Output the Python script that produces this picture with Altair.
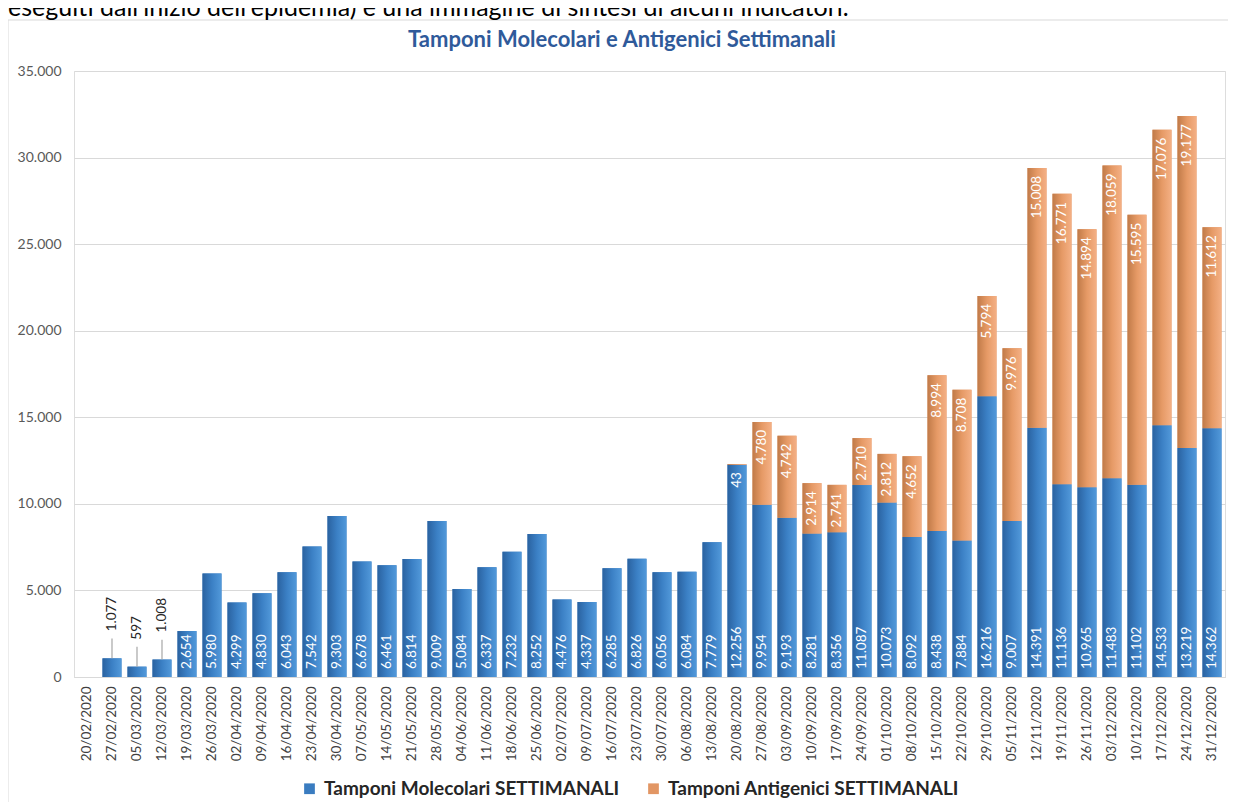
import altair as alt
import pandas as pd

dates = [
    "20/02/2020", "27/02/2020", "05/03/2020", "12/03/2020", "19/03/2020", "26/03/2020",
    "02/04/2020", "09/04/2020", "16/04/2020", "23/04/2020", "30/04/2020", "07/05/2020",
    "14/05/2020", "21/05/2020", "28/05/2020", "04/06/2020", "11/06/2020", "18/06/2020",
    "25/06/2020", "02/07/2020", "09/07/2020", "16/07/2020", "23/07/2020", "30/07/2020",
    "06/08/2020", "13/08/2020", "20/08/2020", "27/08/2020", "03/09/2020", "10/09/2020",
    "17/09/2020", "24/09/2020", "01/10/2020", "08/10/2020", "15/10/2020", "22/10/2020",
    "29/10/2020", "05/11/2020", "12/11/2020", "19/11/2020", "26/11/2020", "03/12/2020",
    "10/12/2020", "17/12/2020", "24/12/2020", "31/12/2020",
]
molecolari = [
    None, 1077, 597, 1008, 2654, 5980, 4299, 4830, 6043, 7542, 9303, 6678,
    6461, 6814, 9009, 5084, 6337, 7232, 8252, 4476, 4337, 6285, 6826, 6056,
    6084, 7779, 12256, 9954, 9193, 8281, 8356, 11087, 10073, 8092, 8438, 7884,
    16216, 9007, 14391, 11136, 10965, 11483, 11102, 14533, 13219, 14362,
]
antigenici = [None] * 26 + [
    43, 4780, 4742, 2914, 2741, 2710, 2812, 4652, 8994, 8708,
    5794, 9976, 15008, 16771, 14894, 18059, 15595, 17076, 19177, 11612,
]
series_names = ["Tamponi Molecolari SETTIMANALI", "Tamponi Antigenici SETTIMANALI"]
chart_title = "Tamponi Molecolari e Antigenici Settimanali"
page_text = "eseguiti dall'inizio dell'epidemia) è una immagine di sintesi di alcuni indicatori."
y_ticks = [0, 5000, 10000, 15000, 20000, 25000, 30000, 35000]


def it_fmt(v):
    return f"{int(v):,}".replace(",", ".")


df = pd.DataFrame({"data": dates, "mol": molecolari, "ant": antigenici})
df["mol0"] = df["mol"].fillna(0)
df["top"] = df["mol0"] + df["ant"].fillna(0)
df["zero"] = 0
df["mol_lbl"] = df["mol"].apply(lambda v: it_fmt(v) if pd.notna(v) else "")
df["ant_lbl"] = df["ant"].apply(lambda v: it_fmt(v) if pd.notna(v) else "")
df["lead"] = df["mol0"] + 1150

rows = []
for _, r in df.iterrows():
    if pd.notna(r["mol"]):
        rows.append({"data": r["data"], "serie": series_names[0], "y0": 0, "y1": r["mol"]})
    if pd.notna(r["ant"]):
        rows.append({"data": r["data"], "serie": series_names[1], "y0": r["mol0"], "y1": r["top"]})
long_df = pd.DataFrame(rows)

FONT = "Lato"
blue_grad = alt.Gradient(
    gradient="linear", x1=0, x2=1, y1=0, y2=0,
    stops=[alt.GradientStop(offset=0, color="#2a62a0"),
           alt.GradientStop(offset=0.5, color="#3b80c5"),
           alt.GradientStop(offset=1, color="#5299da")],
)
orange_grad = alt.Gradient(
    gradient="linear", x1=0, x2=1, y1=0, y2=0,
    stops=[alt.GradientStop(offset=0, color="#c07a48"),
           alt.GradientStop(offset=0.5, color="#e69a66"),
           alt.GradientStop(offset=1, color="#f4b085")],
)

x_enc = alt.X(
    "data:N", sort=dates, title=None,
    scale=alt.Scale(domain=dates, paddingInner=0.24, paddingOuter=0.14),
    axis=alt.Axis(labelAngle=270, labelFont=FONT, labelFontSize=13.5, labelColor="#404040",
                  labelPadding=9, ticks=False, domainColor="#d9d9d9", grid=False),
)
y_scale = alt.Scale(domain=[0, 35000], nice=False)
y_axis = alt.Axis(values=y_ticks, labelExpr="replace(format(datum.value, ',d'), regexp(',', 'g'), '.')",
                  labelFont=FONT, labelFontSize=14, labelColor="#595959", labelPadding=13,
                  domain=False, ticks=False, gridColor="#d9d9d9", gridWidth=1.2)

legend_layer = alt.Chart(long_df).mark_bar().encode(
    x=x_enc,
    y=alt.Y("y0:Q", scale=y_scale, axis=y_axis, title=None),
    y2="y1:Q",
    color=alt.Color(
        "serie:N",
        scale=alt.Scale(domain=series_names, range=["#3a7cc0", "#e29664"]),
        legend=alt.Legend(orient="none", legendX=226, legendY=708, direction="horizontal",
                          title=None, symbolType="square", symbolSize=115, symbolStrokeWidth=0,
                          labelFont=FONT, labelFontSize=19, labelFontWeight="bold",
                          labelColor="#262626", columnPadding=24, labelOffset=5, labelLimit=0),
    ),
)

base = alt.Chart(df)
mol_bars = base.transform_filter("isValid(datum.mol)").mark_bar(color=blue_grad).encode(
    x=x_enc, y=alt.Y("zero:Q", scale=y_scale), y2="mol:Q"
)
ant_bars = base.transform_filter("isValid(datum.ant)").mark_bar(color=orange_grad).encode(
    x=x_enc, y=alt.Y("mol0:Q", scale=y_scale), y2="top:Q"
)
mol_in = base.transform_filter("isValid(datum.mol) && datum.mol >= 1500").mark_text(
    angle=270, align="left", baseline="middle", dx=8, color="white", font=FONT, fontSize=13.5
).encode(x=x_enc, y=alt.Y("zero:Q", scale=y_scale), text="mol_lbl:N")
mol_out = base.transform_filter("isValid(datum.mol) && datum.mol < 1500").mark_text(
    angle=270, align="left", baseline="middle", dx=27, color="#262626", font=FONT, fontSize=13.5
).encode(x=x_enc, y=alt.Y("mol:Q", scale=y_scale), text="mol_lbl:N")
leaders = base.transform_filter("isValid(datum.mol) && datum.mol < 1500").mark_rule(
    color="#a6a6a6", strokeWidth=1.2
).encode(x=x_enc, y=alt.Y("mol:Q", scale=y_scale), y2="lead:Q")
ant_lbl = base.transform_filter("isValid(datum.ant)").mark_text(
    angle=270, align="right", baseline="middle", dx=-8, color="white", font=FONT, fontSize=13.5
).encode(x=x_enc, y=alt.Y("top:Q", scale=y_scale), text="ant_lbl:N")

frame_df = pd.DataFrame({"t": [chart_title], "p": [page_text]})
border_v = alt.Chart(frame_df).mark_rule(color="#d9d9d9").encode(
    x=alt.value(-66), y=alt.value(-51), y2=alt.value(760)
)
border_h = alt.Chart(frame_df).mark_rule(color="#d9d9d9").encode(
    x=alt.value(-66), x2=alt.value(1160), y=alt.value(-51)
)
title_mark = alt.Chart(frame_df).mark_text(
    font=FONT, fontSize=22, fontWeight="bold", color="#2f5a9a", align="center", baseline="alphabetic"
).encode(x=alt.value(548), y=alt.value(-24), text="t:N")
page_mark = alt.Chart(frame_df).mark_text(
    font=FONT, fontSize=25, color="#000000", align="left", baseline="alphabetic"
).encode(x=alt.value(-66), y=alt.value(-55), text="p:N")

chart = alt.layer(
    legend_layer, mol_bars, ant_bars, leaders, mol_in, mol_out, ant_lbl,
    border_v, border_h, title_mark, page_mark
).properties(
    width=1151, height=606,
    autosize=alt.AutoSizeParams(type="none"),
    padding={"left": 66, "top": 63, "right": 3, "bottom": 125},
).configure_view(stroke=None).configure(background="white")

chart.save("out.html", embed_options={"renderer": "svg", "actions": False})
